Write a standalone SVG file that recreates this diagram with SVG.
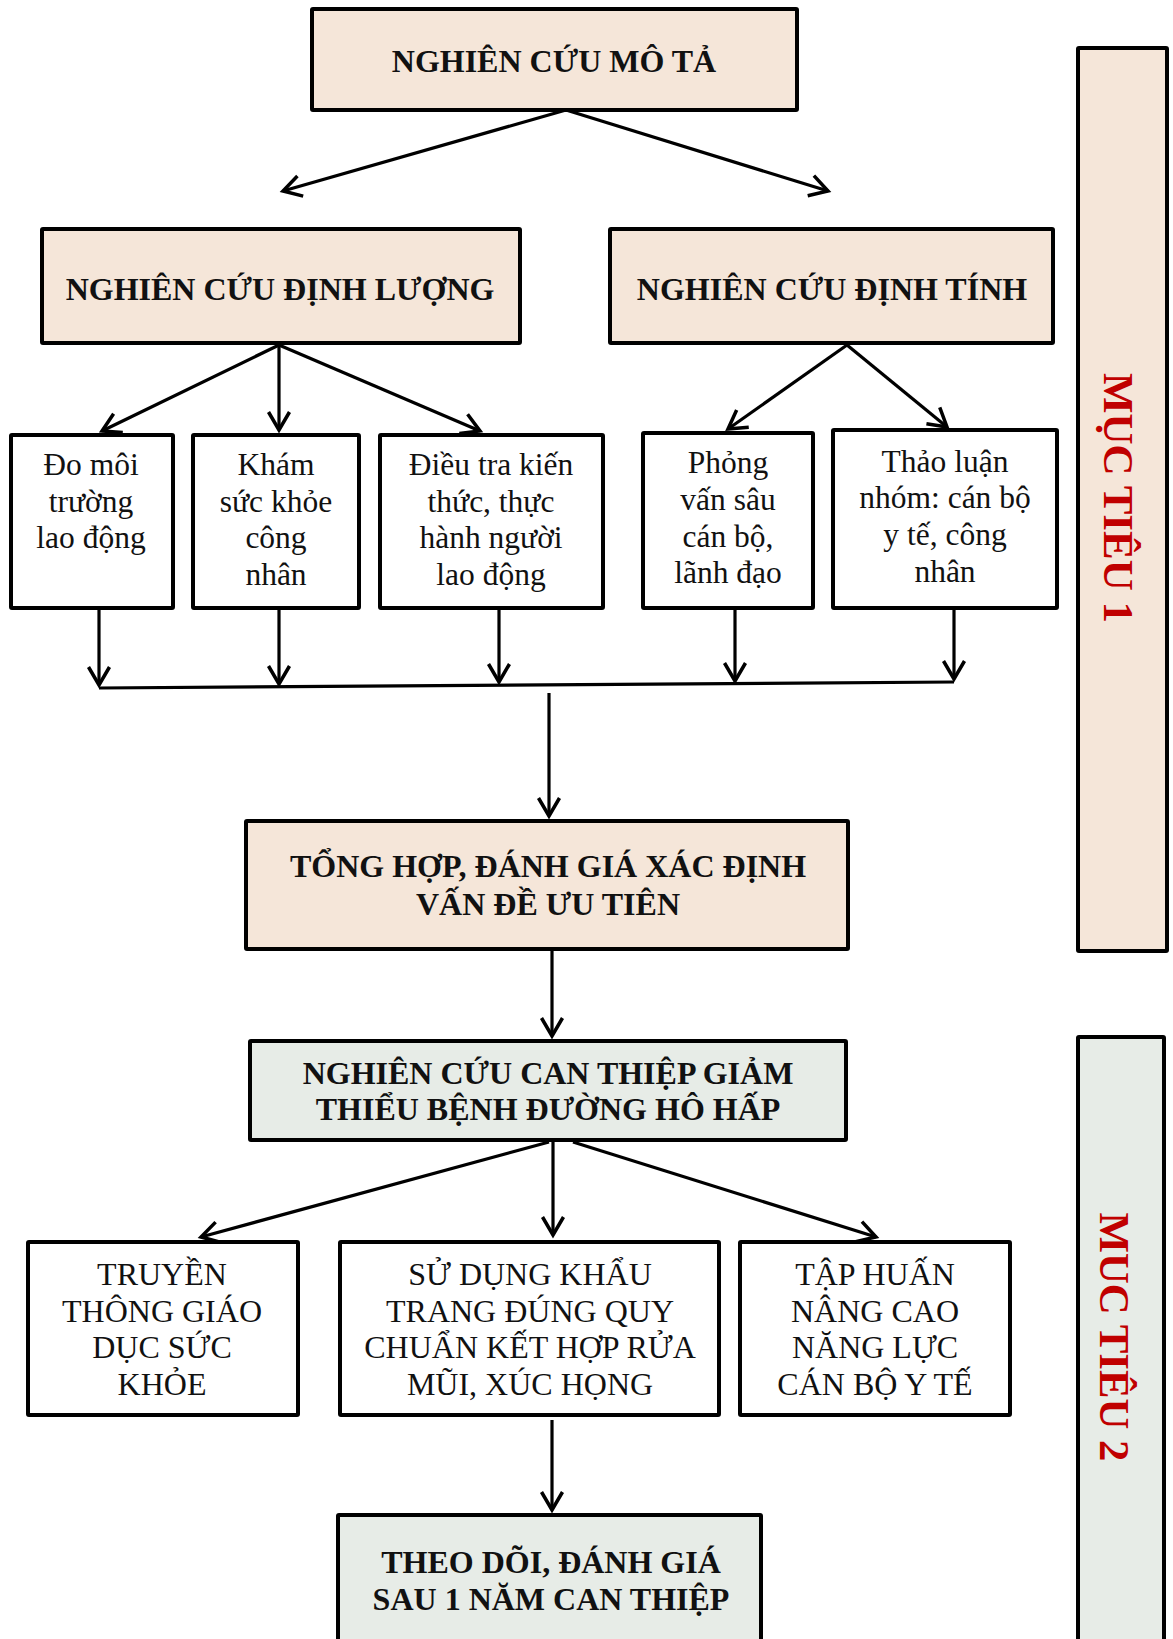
<svg xmlns="http://www.w3.org/2000/svg" width="1173" height="1639" viewBox="0 0 1173 1639">
<style>
.b{fill:#F5E6D9;stroke:#000;stroke-width:4}
.g{fill:#E7ECE7;stroke:#000;stroke-width:4}
.w{fill:#FFFFFF;stroke:#000;stroke-width:4}
.h{font-family:"Liberation Serif","Times New Roman",serif;font-weight:bold;font-size:32px;fill:#111;text-anchor:middle}
.t{font-family:"Liberation Serif","Times New Roman",serif;font-size:31.5px;fill:#111;text-anchor:middle}
.u{font-family:"Liberation Serif","Times New Roman",serif;font-size:32px;fill:#111;text-anchor:middle}
.r{font-family:"Liberation Serif","Times New Roman",serif;font-weight:bold;font-size:42px;fill:#C00000;text-anchor:middle}
.c{fill:none;stroke:#000;stroke-width:3.2}
.a{marker-end:url(#ah)}
</style>
<defs>
<marker id="ah" markerUnits="userSpaceOnUse" markerWidth="40" markerHeight="40" orient="auto" overflow="visible" refX="0" refY="0">
<path d="M-18,-10.5 L0,0 L-18,10.5" fill="none" stroke="#000" stroke-width="3.5"/>
</marker>
</defs>
<rect width="1173" height="1639" fill="#fff"/>

<g id="connectors">
<line class="c a" x1="566" y1="110" x2="283" y2="191"/>
<line class="c a" x1="566" y1="110" x2="828" y2="191"/>
<line class="c a" x1="279" y1="345" x2="102" y2="431"/>
<line class="c a" x1="279" y1="345" x2="279" y2="430"/>
<line class="c a" x1="279" y1="345" x2="480" y2="431"/>
<line class="c a" x1="847" y1="345" x2="728" y2="429"/>
<line class="c a" x1="847" y1="345" x2="947" y2="427"/>
<line class="c a" x1="99" y1="600" x2="99" y2="685"/>
<line class="c a" x1="279" y1="609" x2="279" y2="684"/>
<line class="c a" x1="499" y1="604" x2="499" y2="682"/>
<line class="c a" x1="735" y1="604" x2="735" y2="681"/>
<line class="c a" x1="954" y1="598" x2="954" y2="679"/>
<line class="c" x1="99" y1="688" x2="954" y2="682"/>
<line class="c a" x1="549" y1="693" x2="549" y2="816"/>
<line class="c a" x1="552" y1="949" x2="552" y2="1036"/>
<line class="c a" x1="549" y1="1142" x2="201" y2="1237"/>
<line class="c a" x1="553" y1="1142" x2="553" y2="1235"/>
<line class="c a" x1="573" y1="1142" x2="876" y2="1237"/>
<line class="c a" x1="552" y1="1420" x2="552" y2="1510"/>
</g>

<g id="n-mota">
<rect class="b" x="312" y="9" width="485" height="101" rx="1"/>
<text class="h" x="554" y="72">NGHIÊN CỨU MÔ TẢ</text>
</g>
<g id="n-dinhluong">
<rect class="b" x="42" y="229" width="478" height="114" rx="1"/>
<text class="h" x="280" y="300">NGHIÊN CỨU ĐỊNH LƯỢNG</text>
</g>
<g id="n-dinhtinh">
<rect class="b" x="610" y="229" width="443" height="114" rx="1"/>
<text class="h" x="832" y="300">NGHIÊN CỨU ĐỊNH TÍNH</text>
</g>

<g id="n-domoi">
<rect class="w" x="11" y="435" width="162" height="173" rx="1"/>
<text class="t" x="91" y="475">Đo môi</text>
<text class="t" x="91" y="512">trường</text>
<text class="t" x="91" y="548">lao động</text>
</g>
<g id="n-kham">
<rect class="w" x="193" y="435" width="166" height="173" rx="1"/>
<text class="t" x="276" y="475">Khám</text>
<text class="t" x="276" y="512">sức khỏe</text>
<text class="t" x="276" y="548">công</text>
<text class="t" x="276" y="585">nhân</text>
</g>
<g id="n-dieutra">
<rect class="w" x="380" y="435" width="223" height="173" rx="1"/>
<text class="t" x="491" y="475">Điều tra kiến</text>
<text class="t" x="491" y="512">thức, thực</text>
<text class="t" x="491" y="548">hành người</text>
<text class="t" x="491" y="585">lao động</text>
</g>
<g id="n-phongvan">
<rect class="w" x="643" y="433" width="170" height="175" rx="1"/>
<text class="t" x="728" y="473">Phỏng</text>
<text class="t" x="728" y="510">vấn sâu</text>
<text class="t" x="728" y="547">cán bộ,</text>
<text class="t" x="728" y="583">lãnh đạo</text>
</g>
<g id="n-thaoluan">
<rect class="w" x="833" y="430" width="224" height="178" rx="1"/>
<text class="t" x="945" y="472">Thảo luận</text>
<text class="t" x="945" y="508">nhóm: cán bộ</text>
<text class="t" x="945" y="545">y tế, công</text>
<text class="t" x="945" y="582">nhân</text>
</g>

<g id="n-tonghop">
<rect class="b" x="246" y="821" width="602" height="128" rx="1"/>
<text class="h" x="548" y="877">TỔNG HỢP, ĐÁNH GIÁ XÁC ĐỊNH</text>
<text class="h" x="548" y="915">VẤN ĐỀ ƯU TIÊN</text>
</g>
<g id="n-canthiep">
<rect class="g" x="250" y="1041" width="596" height="99" rx="1"/>
<text class="h" x="548" y="1084">NGHIÊN CỨU CAN THIỆP GIẢM</text>
<text class="h" x="548" y="1120">THIỂU BỆNH ĐƯỜNG HÔ HẤP</text>
</g>

<g id="n-truyenthong">
<rect class="w" x="28" y="1242" width="270" height="173" rx="1"/>
<text class="u" x="162" y="1285">TRUYỀN</text>
<text class="u" x="162" y="1322">THÔNG GIÁO</text>
<text class="u" x="162" y="1358">DỤC SỨC</text>
<text class="u" x="162" y="1395">KHỎE</text>
</g>
<g id="n-khautrang">
<rect class="w" x="340" y="1242" width="379" height="173" rx="1"/>
<text class="u" x="530" y="1285">SỬ DỤNG KHẨU</text>
<text class="u" x="530" y="1322">TRANG ĐÚNG QUY</text>
<text class="u" x="530" y="1358">CHUẨN KẾT HỢP RỬA</text>
<text class="u" x="530" y="1395">MŨI, XÚC HỌNG</text>
</g>
<g id="n-taphuan">
<rect class="w" x="740" y="1242" width="270" height="173" rx="1"/>
<text class="u" x="875" y="1285">TẬP HUẤN</text>
<text class="u" x="875" y="1322">NÂNG CAO</text>
<text class="u" x="875" y="1358">NĂNG LỰC</text>
<text class="u" x="875" y="1395">CÁN BỘ Y TẾ</text>
</g>

<g id="n-theodoi">
<rect class="g" x="338" y="1515" width="423" height="145" rx="1"/>
<text class="h" x="551" y="1573">THEO DÕI, ĐÁNH GIÁ</text>
<text class="h" x="551" y="1610">SAU 1 NĂM CAN THIỆP</text>
</g>

<g id="n-muctieu1">
<rect class="b" x="1078" y="48" width="89" height="903" rx="1"/>
<text class="r" transform="translate(1104,498) rotate(90)" textLength="250" lengthAdjust="spacingAndGlyphs">MỤC TIÊU 1</text>
</g>
<g id="n-muctieu2">
<rect class="g" x="1078" y="1037" width="86" height="625" rx="1"/>
<text class="r" transform="translate(1100,1337) rotate(90)" textLength="249" lengthAdjust="spacingAndGlyphs">MUC TIÊU 2</text>
</g>
</svg>
